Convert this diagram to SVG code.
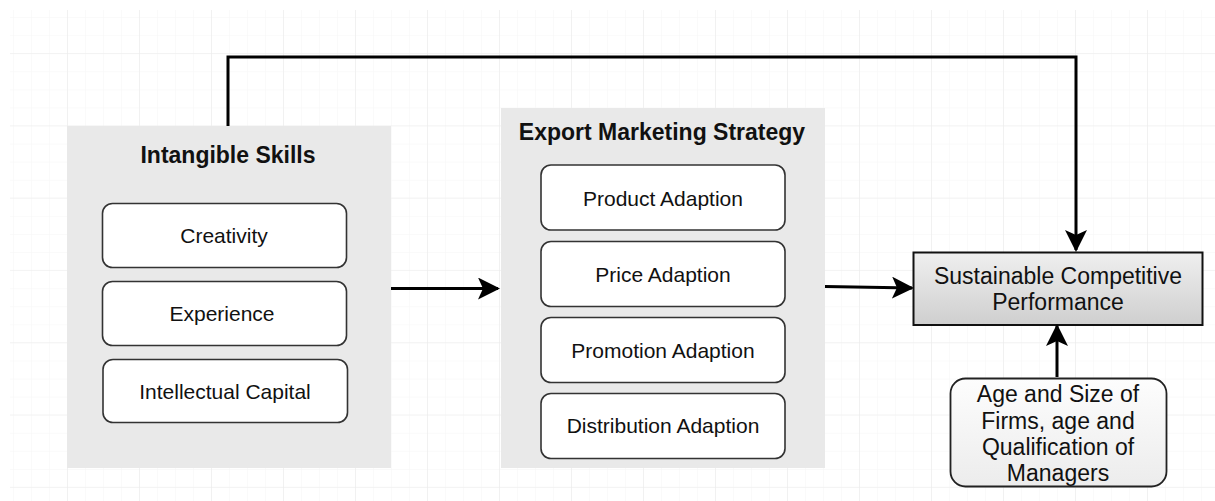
<svg xmlns="http://www.w3.org/2000/svg" width="1215" height="501" viewBox="0 0 1215 501">
  <style>
    .container { fill: #e9e9e9; }
    .item { fill: #ffffff; stroke: #333333; stroke-width: 1.6; }
    .title { font-family: "Liberation Sans", Arial, sans-serif; font-size: 23px; font-weight: bold; fill: #111111; text-anchor: middle; }
    .label { font-family: "Liberation Sans", Arial, sans-serif; font-size: 21px; fill: #111111; text-anchor: middle; }
    .label-lg { font-family: "Liberation Sans", Arial, sans-serif; font-size: 23px; fill: #111111; text-anchor: middle; }
    .wire { fill: none; stroke: #000000; stroke-width: 3; }
  </style>
  <defs>
    <pattern id="minorGrid" x="-5" y="-1" width="18" height="18.075" patternUnits="userSpaceOnUse">
      <path d="M0,0 H18 M0,0 V18.075" fill="none" stroke="#f6f6f6" stroke-width="1"/>
    </pattern>
    <pattern id="majorGrid" x="-5" y="-19.3" width="72" height="72.3" patternUnits="userSpaceOnUse">
      <path d="M0,0 H72 M0,0 V72.3" fill="none" stroke="#ebebeb" stroke-width="1.2"/>
    </pattern>
    <linearGradient id="perfFill" x1="0" y1="0" x2="0" y2="1">
      <stop offset="0" stop-color="#efefef"/>
      <stop offset="1" stop-color="#cfcfcf"/>
    </linearGradient>
    <linearGradient id="ageFill" x1="0" y1="0" x2="0" y2="1">
      <stop offset="0" stop-color="#fdfdfd"/>
      <stop offset="1" stop-color="#ececec"/>
    </linearGradient>
    <marker id="arrow" viewBox="0 0 22 22" markerWidth="22" markerHeight="22" refX="20" refY="11" orient="auto" markerUnits="userSpaceOnUse">
      <path d="M0,0 L22,11 L0,22 L5,11 Z" fill="#000000"/>
    </marker>
  </defs>

  <!-- canvas and grid -->
  <rect width="1215" height="501" fill="#ffffff"/>
  <rect x="10" y="10" width="1205" height="491" fill="url(#minorGrid)"/>
  <rect x="10" y="10" width="1205" height="491" fill="url(#majorGrid)"/>

  <!-- Intangible Skills group -->
  <g id="intangible-skills">
    <rect class="container" x="67" y="126" width="324" height="342"/>
    <text class="title" x="228" y="163">Intangible Skills</text>
  </g>
  <g id="creativity">
    <rect class="item" x="102.5" y="203.5" width="244" height="64" rx="10"/>
    <text class="label" x="224" y="243">Creativity</text>
  </g>
  <g id="experience">
    <rect class="item" x="102.5" y="281.5" width="244" height="64" rx="10"/>
    <text class="label" x="222" y="321">Experience</text>
  </g>
  <g id="intellectual-capital">
    <rect class="item" x="103" y="359.5" width="244.5" height="63" rx="10"/>
    <text class="label" x="225" y="399">Intellectual Capital</text>
  </g>

  <!-- Export Marketing Strategy group -->
  <g id="export-marketing-strategy">
    <rect class="container" x="501" y="108" width="324" height="360"/>
    <text class="title" x="662" y="140">Export Marketing Strategy</text>
  </g>
  <g id="product-adaption">
    <rect class="item" x="541" y="165" width="244" height="65" rx="10"/>
    <text class="label" x="663" y="206">Product Adaption</text>
  </g>
  <g id="price-adaption">
    <rect class="item" x="541" y="241.5" width="244" height="65" rx="10"/>
    <text class="label" x="663" y="282">Price Adaption</text>
  </g>
  <g id="promotion-adaption">
    <rect class="item" x="541" y="317.5" width="244" height="65" rx="10"/>
    <text class="label" x="663" y="358">Promotion Adaption</text>
  </g>
  <g id="distribution-adaption">
    <rect class="item" x="541" y="393.5" width="244" height="65" rx="10"/>
    <text class="label" x="663" y="433">Distribution Adaption</text>
  </g>

  <!-- Outcome -->
  <g id="sustainable-performance">
    <rect x="913.5" y="252.5" width="289" height="72.5" fill="url(#perfFill)" stroke="#111111" stroke-width="2"/>
    <text class="label-lg" x="1058" y="284">Sustainable Competitive</text>
    <text class="label-lg" x="1058" y="310">Performance</text>
  </g>

  <!-- Control variables -->
  <g id="control-variables">
    <rect x="950.5" y="378.5" width="216" height="108" rx="15" fill="url(#ageFill)" stroke="#222222" stroke-width="1.8"/>
    <text class="label-lg" x="1058" y="402">Age and Size of</text>
    <text class="label-lg" x="1058" y="428.5">Firms, age and</text>
    <text class="label-lg" x="1058" y="455">Qualification of</text>
    <text class="label-lg" x="1058" y="481">Managers</text>
  </g>

  <!-- Connectors -->
  <g id="connectors">
    <path class="wire" d="M228,126 V57 H1076 V250" marker-end="url(#arrow)"/>
    <path class="wire" d="M391,288.5 H498" marker-end="url(#arrow)"/>
    <path class="wire" d="M825,286.5 L912,288" marker-end="url(#arrow)"/>
    <path class="wire" d="M1057,377 V326" marker-end="url(#arrow)"/>
  </g>
</svg>
